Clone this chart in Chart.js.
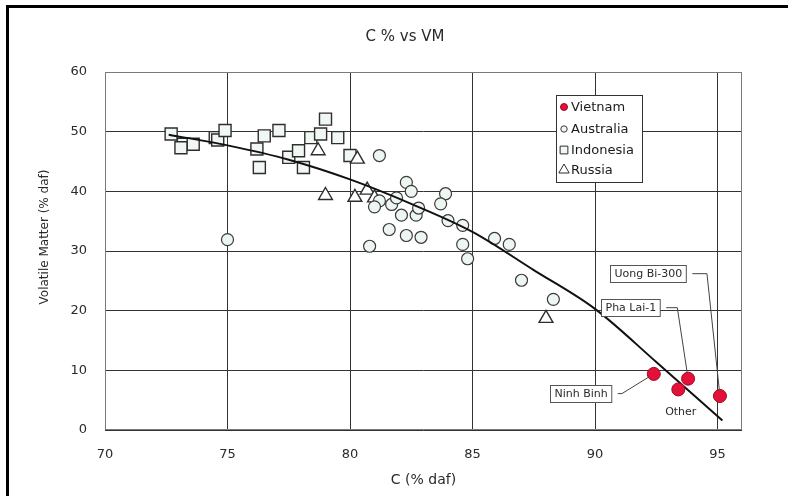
<!DOCTYPE html>
<html><head><meta charset="utf-8">
<script src="https://cdn.jsdelivr.net/npm/chart.js@4.4.0/dist/chart.umd.min.js"></script>
<style>
html,body{margin:0;padding:0;background:#fff;}
#wrap{position:relative;width:788px;height:496px;overflow:hidden;}
#wrap:before{content:'';position:absolute;left:6px;top:5px;right:0;height:3px;background:#000;}
#wrap:after{content:'';position:absolute;left:6px;top:5px;bottom:0;width:3px;background:#000;}
</style></head><body>
<div id="wrap"><canvas id="c" width="788" height="496"></canvas></div>
<script>
// ---- data ----
const chartTitle = 'C % vs VM';
const xTitle = 'C (% daf)';
const yTitle = 'Volatile Matter (% daf)';
const seriesNames = ['Vietnam', 'Australia', 'Indonesia', 'Russia'];

const vietnamC  = [92.4, 93.4, 93.8, 95.1];
const vietnamVM = [9.4, 6.8, 8.6, 5.7];
const vietnamNames = ['Ninh Binh', 'Other', 'Pha Lai-1', 'Uong Bi-300'];

const australiaC  = [75.0, 81.2, 82.3, 82.5, 81.2, 81.7, 81.9, 82.1, 82.7, 81.6, 82.3, 82.9, 80.8,
                     83.9, 83.7, 84.0, 84.6, 84.6, 84.8, 85.9, 86.5, 87.0, 88.3, 82.8, 81.0];
const australiaVM = [31.9, 46.0, 41.5, 40.0, 38.4, 37.8, 38.9, 36.0, 36.0, 33.6, 32.6, 32.3, 30.8,
                     39.6, 37.9, 35.1, 34.3, 31.1, 28.7, 32.1, 31.1, 25.1, 21.9, 37.2, 37.4];

const indonesiaC  = [72.7, 73.2, 73.6, 73.1, 74.5, 74.6, 74.9, 76.2, 76.3, 76.5, 77.1, 77.5,
                     77.9, 78.1, 78.4, 78.8, 79.0, 79.5, 80.0];
const indonesiaVM = [49.6, 47.9, 47.9, 47.3, 49.0, 48.6, 50.2, 47.1, 44.0, 49.3, 50.2, 45.7,
                     46.8, 44.0, 49.0, 49.6, 52.1, 49.0, 46.0];

const russiaC  = [78.7, 79.0, 80.3, 80.2, 80.7, 81.0, 88.0];
const russiaVM = [46.8, 39.3, 45.4, 39.0, 40.2, 38.9, 18.7];

const trendC  = [72.6, 75.0, 77.5, 80.0, 82.5, 85.0, 87.5, 90.0, 92.5, 95.2];
const trendVM = [49.5, 47.7, 45.3, 42.0, 37.9, 33.2, 26.8, 20.3, 11.4, 1.6];

const xTicks = [70, 75, 80, 85, 90, 95];
const yTicks = [0, 10, 20, 30, 40, 50, 60];

// annotation layout (data units)
const notes = [
  {point: 0, box: [89.4, 6.1], elbow: [91.1, 6.1]},
  {point: 2, box: [91.45, 20.5], elbow: [93.36, 20.5]},
  {point: 3, box: [92.17, 26.2], elbow: [94.57, 26.2]},
  {point: 1, box: [93.5, 3.0], plain: true}
];

const pts = (xs, ys) => xs.map((x, i) => ({x: x, y: ys[i]}));
const FONT = 'DejaVu Sans';
const TXT = '#2a2a2a';

const decor = {
  id: 'decor',
  beforeDatasetsDraw(chart) {
    const {ctx, chartArea: a} = chart;
    ctx.save();
    ctx.strokeStyle = '#7a7a7a';
    ctx.lineWidth = 1;
    ctx.strokeRect(a.left + 0.5, a.top + 0.5, a.right - a.left - 1, a.bottom - a.top - 1);
    ctx.restore();
  },
  afterDatasetsDraw(chart) {
    const {ctx} = chart;
    const xs = chart.scales.x, ys = chart.scales.y;
    ctx.save();
    ctx.font = '11px ' + FONT;
    ctx.textBaseline = 'middle';
    notes.forEach(n => {
      const label = vietnamNames[n.point];
      const bx = xs.getPixelForValue(n.box[0]);
      const by = ys.getPixelForValue(n.box[1]);
      if (n.plain) {
        ctx.fillStyle = TXT;
        ctx.textAlign = 'center';
        ctx.fillText(label, bx, by);
        return;
      }
      const w = ctx.measureText(label).width + 8;
      const h = 17;
      const left = Math.round(bx - w / 2) + 0.5, top = Math.round(by - h / 2) + 0.5;
      const px = xs.getPixelForValue(vietnamC[n.point]);
      const py = ys.getPixelForValue(vietnamVM[n.point]);
      const ex = xs.getPixelForValue(n.elbow[0]);
      const ey = ys.getPixelForValue(n.elbow[1]);
      const ang = Math.atan2(py - ey, px - ex);
      ctx.strokeStyle = '#444';
      ctx.lineWidth = 1;
      ctx.beginPath();
      ctx.moveTo(left + w + 6, ey);
      ctx.lineTo(ex, ey);
      ctx.lineTo(px - Math.cos(ang) * 6, py - Math.sin(ang) * 6);
      ctx.stroke();
      ctx.fillStyle = '#fff';
      ctx.fillRect(left, top, w, h);
      ctx.strokeStyle = '#555';
      ctx.strokeRect(left, top, w, h);
      ctx.fillStyle = TXT;
      ctx.textAlign = 'center';
      ctx.fillText(label, left + w / 2, top + h / 2 + 0.5);
    });
    ctx.restore();
  },
  afterDraw(chart) {
    const {ctx} = chart;
    ctx.save();
    ctx.fillStyle = TXT;
    ctx.font = '15px ' + FONT;
    ctx.textAlign = 'center';
    ctx.textBaseline = 'middle';
    ctx.fillText(chartTitle, 405, 37);
    ctx.save();
    ctx.translate(45, 237);
    ctx.rotate(-Math.PI / 2);
    ctx.font = '12px ' + FONT;
    ctx.fillText(yTitle, 0, 0);
    ctx.restore();
    // legend
    const lx = 556.5, ly = 95.5, lw = 86, lh = 87;
    ctx.fillStyle = '#fff';
    ctx.fillRect(lx, ly, lw, lh);
    ctx.strokeStyle = '#333';
    ctx.lineWidth = 1;
    ctx.strokeRect(lx, ly, lw, lh);
    const rows = [107, 129, 150, 170];
    const radii = [3.5, 3.2, 5.5, 6];
    ctx.font = '13px ' + FONT;
    ctx.textAlign = 'left';
    seriesNames.forEach((name, i) => {
      const ds = chart.data.datasets.find(d => d.label === name);
      ctx.fillStyle = ds.pointBackgroundColor;
      ctx.strokeStyle = ds.pointBorderColor;
      ctx.lineWidth = 1;
      Chart.helpers.drawPoint(ctx, {pointStyle: ds.pointStyle, radius: radii[i], borderWidth: 1}, 564, rows[i]);
      ctx.fillStyle = '#1a1a1a';
      ctx.fillText(name, 571, rows[i] + 1);
    });
    ctx.restore();
  }
};

new Chart(document.getElementById('c'), {
  type: 'scatter',
  data: {
    datasets: [
      {label: 'Vietnam', data: pts(vietnamC, vietnamVM), pointStyle: 'circle', pointRadius: 6.5,
       pointBackgroundColor: '#e4103a', pointBorderColor: '#9a0a22', pointBorderWidth: 1, order: 0},
      {label: 'Trend', type: 'line', data: pts(trendC, trendVM), borderColor: '#111', borderWidth: 2,
       pointRadius: 0, cubicInterpolationMode: 'monotone', fill: false, order: 1},
      {label: 'Australia', data: pts(australiaC, australiaVM), pointStyle: 'circle', pointRadius: 6,
       pointBackgroundColor: '#eef6f1', pointBorderColor: '#3a3a3a', pointBorderWidth: 1.2, order: 2},
      {label: 'Indonesia', data: pts(indonesiaC, indonesiaVM), pointStyle: 'rect', pointRadius: 8.5,
       pointBackgroundColor: '#f1f7f3', pointBorderColor: '#2e2e2e', pointBorderWidth: 1.4, order: 3},
      {label: 'Russia', data: pts(russiaC, russiaVM), pointStyle: 'triangle', pointRadius: 8,
       pointBackgroundColor: '#ffffff', pointBorderColor: '#2e2e2e', pointBorderWidth: 1.4, order: 2}
    ]
  },
  options: {
    responsive: false,
    devicePixelRatio: 1,
    animation: false,
    layout: {padding: {left: 0, top: 72, right: 46, bottom: 0}},
    plugins: {legend: {display: false}, title: {display: false}, tooltip: {enabled: false}},
    scales: {
      x: {
        type: 'linear', min: 70, max: 96,
        afterFit: s => { s.height = 66; },
        afterBuildTicks: s => { s.ticks = xTicks.map(v => ({value: v})); },
        ticks: {stepSize: 5, includeBounds: false, padding: 17, color: TXT, font: {family: FONT, size: 13}},
        grid: {color: '#333', lineWidth: 1, drawTicks: false},
        border: {display: false},
        title: {display: true, text: xTitle, color: TXT, font: {family: FONT, size: 14}, padding: {top: 0, bottom: 7}}
      },
      y: {
        type: 'linear', min: 0, max: 60,
        afterFit: s => { s.width = 105; },
        afterBuildTicks: s => { s.ticks = yTicks.map(v => ({value: v})); },
        ticks: {stepSize: 10, padding: 18, color: TXT, font: {family: FONT, size: 13}},
        grid: {color: '#333', lineWidth: 1, drawTicks: false},
        border: {display: false}
      }
    }
  },
  plugins: [decor]
});
</script>
</body></html>
